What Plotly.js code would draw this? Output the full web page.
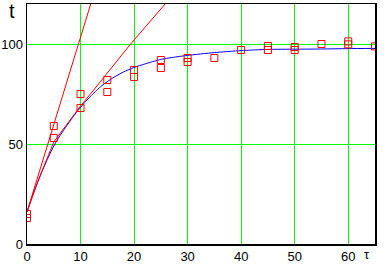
<!DOCTYPE html>
<html>
<head>
<meta charset="utf-8">
<script src="https://cdn.plot.ly/plotly-3.0.1.min.js"></script>
<style>html,body{margin:0;padding:0;background:#fff;}#chart{width:389px;height:271px;}</style>
</head>
<body>
<div id="chart"></div>
<script>
// Measured points (tau, t)
const measTau = [0, 0, 5, 5, 10, 10, 15, 15, 20, 20, 25, 25, 30, 30, 35, 40, 45, 45, 50, 50, 55, 60, 60, 65];
const measT   = [15, 13, 59, 53, 75, 68, 82, 76, 87, 83.5, 92, 88, 93, 91, 93, 97, 99, 97, 98.5, 97, 100, 101.3, 99.8, 98.8];

// Blue model curve
const curveTau = [0, 1, 2, 3, 4, 5, 6, 7, 8, 9, 10, 11, 12, 13, 14, 16, 18, 20, 22, 25, 28, 30, 35, 40, 45, 50, 55, 60, 65];
const curveT   = [16, 24, 31, 37.5, 43.5, 49, 53.5, 57.5, 61.3, 65, 68.3, 71.4, 74.2, 76.8, 79.2, 83, 86, 88.3, 90, 92.3, 93.6, 94.3, 95.7, 96.7, 97.3, 97.4, 97.5, 97.7, 97.8];

// Steep red line
const line1Tau = [0, 11.9];
const line1T   = [16, 120];

// Second red line
const line2Tau = [0, 2.2, 5, 10, 12.6, 19.2, 25.8];
const line2T   = [16, 32.5, 51, 69, 77.5, 99.5, 120];

const xTicks = [0, 10, 20, 30, 40, 50, 60];
const yTicks = [0, 50, 100];

const font = {family: 'Liberation Sans, Arial, sans-serif', size: 13, color: '#000'};

const traces = [
  {x: curveTau, y: curveT, mode: 'lines', line: {color: '#0000ff', width: 1, shape: 'spline', smoothing: 0.6}, hoverinfo: 'skip'},
  {x: line1Tau, y: line1T, mode: 'lines', line: {color: '#ff0000', width: 1}, hoverinfo: 'skip'},
  {x: line2Tau, y: line2T, mode: 'lines', line: {color: '#ff0000', width: 1}, hoverinfo: 'skip'},
  {x: measTau, y: measT, mode: 'markers', marker: {symbol: 'square-open', size: 7, color: '#ff0000', line: {width: 1, color: '#ff0000'}}, hoverinfo: 'skip'}
];

const layout = {
  width: 389, height: 271,
  margin: {l: 27, r: 14, t: 4, b: 27, pad: 0},
  paper_bgcolor: '#fff', plot_bgcolor: '#fff',
  showlegend: false,
  font: font,
  xaxis: {
    range: [0, 65], tickvals: xTicks, ticktext: xTicks.map(String),
    showgrid: true, gridcolor: '#00ff00', gridwidth: 1,
    zeroline: false, showline: true, mirror: true, linecolor: '#000', linewidth: 1.5,
    ticks: '', tickfont: font, fixedrange: true
  },
  yaxis: {
    range: [0, 120], tickvals: yTicks, ticktext: yTicks.map(String),
    showgrid: true, gridcolor: '#00ff00', gridwidth: 1,
    zeroline: false, showline: true, mirror: true, linecolor: '#000', linewidth: 1.5,
    ticks: '', tickfont: font, fixedrange: true
  },
  annotations: [
    {text: 't', xref: 'paper', yref: 'paper', x: -0.042, y: 0.969, xanchor: 'center', yanchor: 'middle', showarrow: false, font: {family: 'Liberation Sans, Arial, sans-serif', size: 20, color: '#000'}},
    {text: 'τ', xref: 'paper', yref: 'paper', x: 0.977, y: -0.042, xanchor: 'center', yanchor: 'middle', showarrow: false, font: {family: 'Liberation Sans, Arial, sans-serif', size: 13, color: '#000'}}
  ]
};

Plotly.newPlot('chart', traces, layout, {staticPlot: true, displayModeBar: false});
</script>
</body>
</html>
